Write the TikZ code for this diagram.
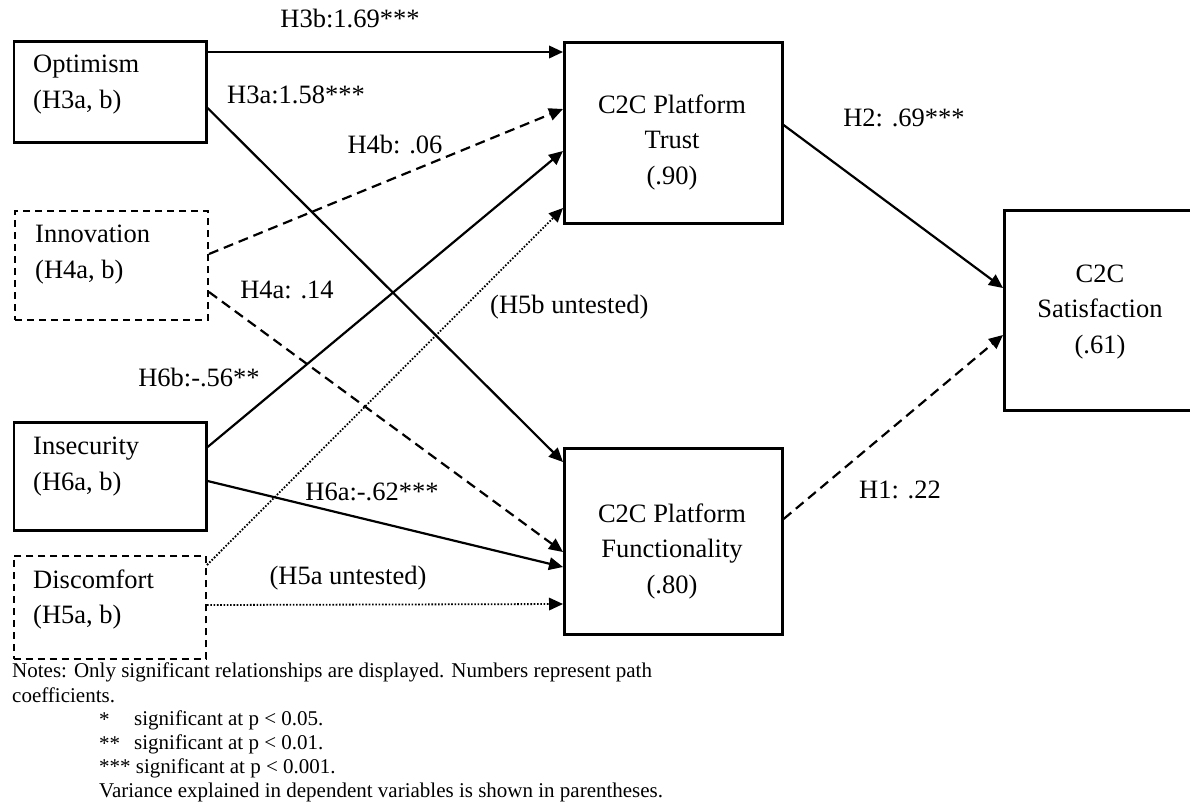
\documentclass[tikz,border=0pt]{standalone}
\usepackage{fontspec}
\setmainfont{Liberation Serif}
\usetikzlibrary{arrows.meta}
\begin{document}
\begin{tikzpicture}[x=1pt,y=-1pt,
  solidbox/.style={draw, line width=2.6pt, inner sep=0pt, anchor=north west},
  dashbox/.style={draw, line width=2pt, dash pattern=on 7pt off 5pt, inner sep=0pt, anchor=north west},
  txt/.style={font=\fontsize{26.5}{35.5}\selectfont, inner sep=0pt},
  note/.style={font=\fontsize{21}{24}\selectfont, inner sep=0pt, anchor=west},
  arr/.style={line width=2.2pt, -{Triangle[length=14pt,width=12.5pt]}},
  darr/.style={arr, dash pattern=on 10pt off 6pt},
  oarr/.style={line width=1.8pt, dash pattern=on 1.6pt off 1.7pt, -{Triangle[length=14pt,width=12.5pt]}}
]
\useasboundingbox (0,0) rectangle (1190,807);

% boxes
\node[solidbox, minimum width=192.3pt, minimum height=101pt] (opt) at (12.7,40) {};
\node[dashbox, minimum width=193pt, minimum height=109pt] (inn) at (14,210) {};
\node[solidbox, minimum width=192.3pt, minimum height=108pt] (ins) at (12.7,421) {};
\node[dashbox, minimum width=192.3pt, minimum height=103pt] (dis) at (12.7,555) {};
\node[solidbox, minimum width=218pt, minimum height=181pt] (tru) at (563,41) {};
\node[solidbox, minimum width=218pt, minimum height=186pt] (fun) at (563,447) {};
\node[solidbox, minimum width=194pt, minimum height=200pt] (sat) at (1003,209) {};

% box texts
\node[txt, anchor=west, align=left] (optL) at (33,84.5) {Optimism\\(H3a, b)};
\node[txt, anchor=west, align=left] (innL) at (35,254.5) {Innovation\\(H4a, b)};
\node[txt, anchor=west, align=left] (insL) at (33,466.5) {Insecurity\\(H6a, b)};
\node[txt, anchor=west, align=left] (disL) at (33,599.5) {Discomfort\\(H5a, b)};
\node[txt, align=center] (truL) at (672,142) {C2C Platform\\Trust\\(.90)};
\node[txt, align=center] (funL) at (672,551) {C2C Platform\\Functionality\\(.80)};
\node[txt, align=center] (satL) at (1100,312) {C2C\\Satisfaction\\(.61)};

% arrows
\draw[arr]  ([yshift=-12pt]opt.north east) -- ([yshift=-11pt]tru.north west);
\draw[arr]  ([yshift=-68pt]opt.north east) -- ([yshift=-15pt]fun.north west);
\draw[darr] ([yshift=-44pt]inn.north east) -- ([yshift=-68pt]tru.north west);
\draw[darr] ([yshift=-82pt]inn.north east) -- ([yshift=-105pt]fun.north west);
\draw[arr]  ([yshift=-26pt]ins.north east) -- ([yshift=-110pt]tru.north west);
\draw[arr]  ([yshift=-60pt]ins.north east) -- ([yshift=-120pt]fun.north west);
\draw[oarr] ([yshift=-10pt]dis.north east) -- ([yshift=-167pt]tru.north west);
\draw[oarr] ([yshift=-50pt]dis.north east) -- ([yshift=-157pt]fun.north west);
\draw[arr]  ([yshift=-84pt]tru.north east) -- ([yshift=-79pt]sat.north west);
\draw[darr] ([yshift=-72pt]fun.north east) -- ([yshift=-126pt]sat.north west);

% path labels
\node[txt] (lH3b) at (350,18) {H3b:1.69***};
\node[txt] (lH3a) at (296,95) {H3a:1.58***};
\node[txt] (lH4b) at (395,144) {H4b: .06};
\node[txt] (lH4a) at (287,290) {H4a: .14};
\node[txt, anchor=west] (lH5b) at (490,307) {(H5b untested)};
\node[txt] (lH6b) at (199,377) {H6b:-.56**};
\node[txt] (lH6a) at (372,492) {H6a:-.62***};
\node[txt] (lH5a) at (348,578) {(H5a untested)};
\node[txt] (lH2) at (904,118) {H2: .69***};
\node[txt] (lH1) at (900,490) {H1: .22};

% notes
\node[note] (n1) at (12,672) {Notes: Only significant relationships are displayed. Numbers represent path};
\node[note] (n2) at (12,695) {coefficients.};
\node[note] (n3a) at (99,720) {*};
\node[note] (n3b) at (134,720) {significant at p < 0.05.};
\node[note] (n4a) at (99,744) {**};
\node[note] (n4b) at (134,744) {significant at p < 0.01.};
\node[note] (n5) at (99,768) {*** significant at p < 0.001.};
\node[note] (n6) at (99,792) {Variance explained in dependent variables is shown in parentheses.};
\end{tikzpicture}
\end{document}
